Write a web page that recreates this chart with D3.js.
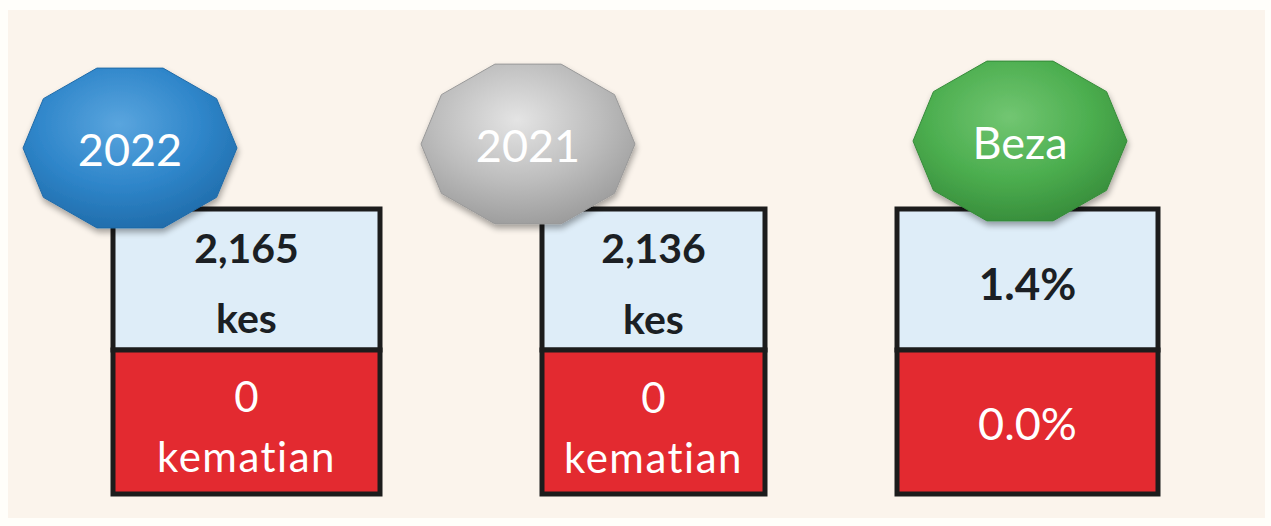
<!DOCTYPE html>
<html>
<head>
<meta charset="utf-8">
<script src="https://cdn.jsdelivr.net/npm/d3@7/dist/d3.min.js"></script>
<style>
  html, body { margin: 0; padding: 0; background: #fffefa; }
  svg { display: block; }
</style>
</head>
<body>
<div class="container"></div>
<script>
/* data */
const labels = ["2022", "2021", "Beza"];
const caseLines = [["2,165", "kes"], ["2,136", "kes"], ["1.4%"]];
const deathLines = [["0", "kematian"], ["0", "kematian"], ["0.0%"]];
const badgeColors = ["#2f86ca", "#bdbdbd", "#4cae4f"];
const badgeLights = ["#5aa5de", "#e4e4e4", "#72c672"];
const badgeDarks = ["#1f6aa8", "#999999", "#358a39"];

const w = 1271;
const h = 526;

/* layout scales for each card */
const boxLeft = d3.scaleOrdinal().domain(labels).range([113, 542, 897]);
const boxWidth = d3.scaleOrdinal().domain(labels).range([267, 223, 261]);
const badgeX = d3.scaleOrdinal().domain(labels).range([130, 528, 1020]);
const badgeY = d3.scaleOrdinal().domain(labels).range([148, 144, 141]);

const boxTop = 209, divY = 350, boxBottom = 494;

const svg = d3.select(".container")
              .append("svg")
              .attr("width", w)
              .attr("height", h);

const defs = svg.append("defs");

const shadow = defs.append("filter")
                   .attr("id", "shadow")
                   .attr("x", "-20%").attr("y", "-20%")
                   .attr("width", "140%").attr("height", "150%");
shadow.append("feGaussianBlur").attr("in", "SourceAlpha").attr("stdDeviation", 3);
shadow.append("feOffset").attr("dx", 1).attr("dy", 4).attr("result", "off");
shadow.append("feComponentTransfer").append("feFuncA").attr("type", "linear").attr("slope", 0.35);
const merge = shadow.append("feMerge");
merge.append("feMergeNode");
merge.append("feMergeNode").attr("in", "SourceGraphic");

labels.forEach((l, i) => {
    const g = defs.append("radialGradient")
                  .attr("id", "grad" + i)
                  .attr("cx", "45%").attr("cy", "35%").attr("r", "70%");
    g.append("stop").attr("offset", "0%").attr("stop-color", badgeLights[i]);
    g.append("stop").attr("offset", "55%").attr("stop-color", badgeColors[i]);
    g.append("stop").attr("offset", "100%").attr("stop-color", badgeDarks[i]);
});

/* beige panel */
svg.append("rect")
   .attr("x", 8).attr("y", 10)
   .attr("width", w - 14).attr("height", h - 18)
   .attr("fill", "#fbf4ec");

const cards = svg.selectAll("g.card")
                 .data(labels)
                 .enter()
                 .append("g")
                 .attr("class", "card");

/* top (cases) part */
cards.append("rect")
     .attr("x", (d) => boxLeft(d))
     .attr("y", boxTop)
     .attr("width", (d) => boxWidth(d))
     .attr("height", divY - boxTop)
     .attr("fill", "#deedf8")
     .attr("stroke", "#1c1c1c")
     .attr("stroke-width", 5);

/* bottom (deaths) part */
cards.append("rect")
     .attr("x", (d) => boxLeft(d))
     .attr("y", divY)
     .attr("width", (d) => boxWidth(d))
     .attr("height", boxBottom - divY)
     .attr("fill", "#e32a30")
     .attr("stroke", "#1c1c1c")
     .attr("stroke-width", 5);

const caseBase = [[263, 333], [263, 334], [300]];
const deathBase = [[412, 472], [413, 473], [440]];

cards.each(function (d, i) {
    const g = d3.select(this);
    const cx = boxLeft(d) + boxWidth(d) / 2;
    caseLines[i].forEach((t, j) => {
        g.append("text")
         .attr("x", cx)
         .attr("y", caseBase[i][j])
         .attr("text-anchor", "middle")
         .attr("font-family", "Lato, 'Open Sans', sans-serif")
         .attr("font-weight", "bold")
         .attr("font-size", i == 2 ? 44 : 41)
         .attr("fill", "#1b1f24")
         .text(t);
    });
    deathLines[i].forEach((t, j) => {
        g.append("text")
         .attr("x", cx)
         .attr("y", deathBase[i][j])
         .attr("text-anchor", "middle")
         .attr("font-family", "Lato, 'Open Sans', sans-serif")
         .attr("font-size", i == 2 ? 45 : 42)
         .attr("letter-spacing", j == 1 ? 1.5 : 0)
         .attr("fill", "#ffffff")
         .text(t);
    });
});

/* badges: flat topped decagons */
const rx = 107, ry = 84;
const angles = d3.range(10).map((k) => (-72 + 36 * k) * Math.PI / 180);
const badgePath = (d) => {
    const pts = angles.map((a) => [badgeX(d) + rx * Math.cos(a), badgeY(d) + ry * Math.sin(a)]);
    return d3.line()(pts) + "Z";
};

cards.append("path")
     .attr("d", badgePath)
     .attr("fill", (d, i) => "url(#grad" + i + ")")
     .attr("stroke", (d, i) => badgeDarks[i])
     .attr("stroke-width", 1)
     .attr("stroke-linejoin", "round")
     .attr("filter", "url(#shadow)");

cards.append("text")
     .attr("x", (d) => badgeX(d))
     .attr("y", (d) => badgeY(d) + 18)
     .attr("text-anchor", "middle")
     .attr("font-family", "Lato, 'Open Sans', sans-serif")
     .attr("font-size", 45)
     .attr("fill", "#ffffff")
     .text((d) => d);
</script>
</body>
</html>
